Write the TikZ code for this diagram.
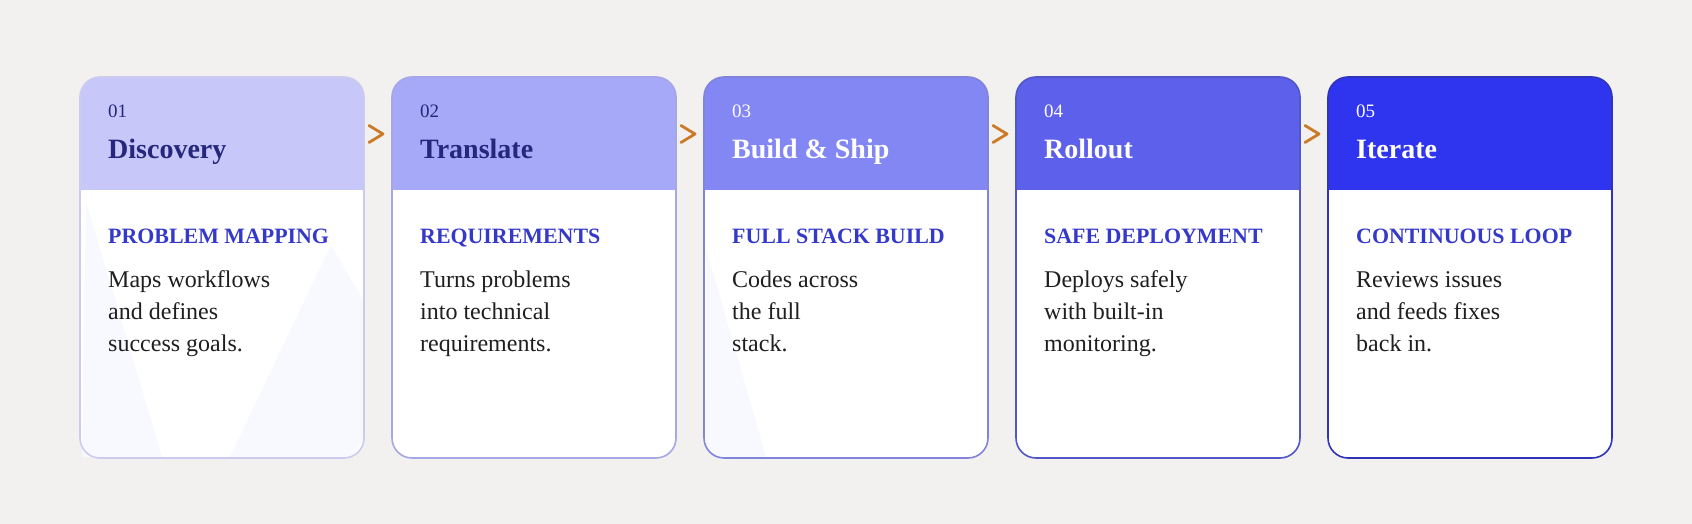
\documentclass[tikz,border=0pt]{standalone}
\usepackage{fontspec}
\setmainfont{Liberation Serif}
\usetikzlibrary{positioning}
\definecolor{bg}{HTML}{F2F1EF}
\definecolor{hd1}{HTML}{C7C8F9}
\definecolor{hd2}{HTML}{A6A8F8}
\definecolor{hd3}{HTML}{8387F3}
\definecolor{hd4}{HTML}{5D60EA}
\definecolor{hd5}{HTML}{2F35EE}
\definecolor{bd1}{HTML}{CACBEE}
\definecolor{bd2}{HTML}{A5A7E6}
\definecolor{bd3}{HTML}{8184D8}
\definecolor{bd4}{HTML}{5256C6}
\definecolor{bd5}{HTML}{3034B8}
\definecolor{navy}{HTML}{24277C}
\definecolor{tagblue}{HTML}{3539C9}
\definecolor{bodytext}{HTML}{1F1F1F}
\definecolor{chevorange}{HTML}{CC7A28}
\definecolor{ghostfill}{HTML}{F8F9FE}
\tikzset{
    card/.style={rectangle, rounded corners=20pt, minimum width=284pt, minimum height=381pt, inner sep=0pt, outer sep=0pt, fill=white}, % card body
    num/.style={anchor=base west, inner sep=0pt, font=\fontsize{19}{22}\selectfont},
    title/.style={anchor=base west, inner sep=0pt, font=\fontsize{28}{32}\selectfont\bfseries},
    tag/.style={anchor=base west, inner sep=0pt, text=tagblue, font=\fontsize{21.9}{26}\selectfont\bfseries},
    body/.style={anchor=base west, inner sep=0pt, align=left, text=bodytext, font=\fontsize{24}{32}\selectfont}, % base = last line
    frame/.style={line width=1.6pt, rounded corners=20pt}, % card outline
    chev/.style={draw=chevorange, line width=2.8pt, line cap=round, line join=round}
}

\begin{document}
\begin{tikzpicture}[x=1pt, y=-1pt]

    \fill[bg] (0,0) rectangle (1692,524);
    \useasboundingbox (0,0) rectangle (1692,524);

    % cards
    \node[card] (c1) at (222,267.5) {};
    \node[card] (c2) at (534,267.5) {};
    \node[card] (c3) at (846,267.5) {};
    \node[card] (c4) at (1158,267.5) {};
    \node[card] (c5) at (1470,267.5) {};

    % faint shapes in the card bodies
    \fill[ghostfill] (86,202) -- (162,457) -- (82,457) -- cycle;
    \fill[ghostfill] (331,245) -- (230,457) -- (352,457) -- (363,440) -- (363,300) -- cycle;
    \fill[ghostfill] (707,252) -- (766,457) -- (716,457) -- (706,446) -- cycle;

    % headers
    \begin{scope}
        \clip[rounded corners=20pt] (c1.south west) rectangle (c1.north east);
        \fill[hd1] (c1.north west) rectangle ([yshift=-113pt]c1.north east);
    \end{scope}
    \begin{scope}
        \clip[rounded corners=20pt] (c2.south west) rectangle (c2.north east);
        \fill[hd2] (c2.north west) rectangle ([yshift=-113pt]c2.north east);
    \end{scope}
    \begin{scope}
        \clip[rounded corners=20pt] (c3.south west) rectangle (c3.north east);
        \fill[hd3] (c3.north west) rectangle ([yshift=-113pt]c3.north east);
    \end{scope}
    \begin{scope}
        \clip[rounded corners=20pt] (c4.south west) rectangle (c4.north east);
        \fill[hd4] (c4.north west) rectangle ([yshift=-113pt]c4.north east);
    \end{scope}
    \begin{scope}
        \clip[rounded corners=20pt] (c5.south west) rectangle (c5.north east);
        \fill[hd5] (c5.north west) rectangle ([yshift=-113pt]c5.north east);
    \end{scope}

    \draw[frame, bd1] (c1.south west) rectangle (c1.north east);
    \draw[frame, bd2] (c2.south west) rectangle (c2.north east);
    \draw[frame, bd3] (c3.south west) rectangle (c3.north east);
    \draw[frame, bd4] (c4.south west) rectangle (c4.north east);
    \draw[frame, bd5] (c5.south west) rectangle (c5.north east);

    % card 1
    \node[num, navy] (n1) at ([shift={(28,41)}]c1.north west) {01};
    \node[title, navy] (t1) at ([shift={(28,81)}]c1.north west) {Discovery};
    \node[tag] (g1) at ([shift={(28,166)}]c1.north west) {PROBLEM MAPPING};
    \node[body] (b1) at ([shift={(28,274)}]c1.north west) {Maps workflows\\and defines\\success goals.};

    % card 2
    \node[num, navy] (n2) at ([shift={(28,41)}]c2.north west) {02};
    \node[title, navy] (t2) at ([shift={(28,81)}]c2.north west) {Translate};
    \node[tag] (g2) at ([shift={(28,166)}]c2.north west) {REQUIREMENTS};
    \node[body] (b2) at ([shift={(28,274)}]c2.north west) {Turns problems\\into technical\\requirements.};

    % card 3
    \node[num, white] (n3) at ([shift={(28,41)}]c3.north west) {03};
    \node[title, white] (t3) at ([shift={(28,81)}]c3.north west) {Build \& Ship};
    \node[tag] (g3) at ([shift={(28,166)}]c3.north west) {FULL STACK BUILD};
    \node[body] (b3) at ([shift={(28,274)}]c3.north west) {Codes across\\the full\\stack.};

    % card 4
    \node[num, white] (n4) at ([shift={(28,41)}]c4.north west) {04};
    \node[title, white] (t4) at ([shift={(28,81)}]c4.north west) {Rollout};
    \node[tag] (g4) at ([shift={(28,166)}]c4.north west) {SAFE DEPLOYMENT};
    \node[body] (b4) at ([shift={(28,274)}]c4.north west) {Deploys safely\\with built-in\\monitoring.};

    % card 5
    \node[num, white] (n5) at ([shift={(28,41)}]c5.north west) {05};
    \node[title, white] (t5) at ([shift={(28,81)}]c5.north west) {Iterate};
    \node[tag] (g5) at ([shift={(28,166)}]c5.north west) {CONTINUOUS LOOP};
    \node[body] (b5) at ([shift={(28,274)}]c5.north west) {Reviews issues\\and feeds fixes\\back in.};

    % chevrons between cards
    \coordinate (k1) at ([shift={(14,57)}]c1.north east);
    \coordinate (k2) at ([shift={(14,57)}]c2.north east);
    \coordinate (k3) at ([shift={(14,57)}]c3.north east);
    \coordinate (k4) at ([shift={(14,57)}]c4.north east);
    \draw[chev] ([shift={(-9,-8.5)}]k1) -- ([shift={(5,0)}]k1) -- ([shift={(-9,8.5)}]k1);
    \draw[chev] ([shift={(-9,-8.5)}]k2) -- ([shift={(5,0)}]k2) -- ([shift={(-9,8.5)}]k2);
    \draw[chev] ([shift={(-9,-8.5)}]k3) -- ([shift={(5,0)}]k3) -- ([shift={(-9,8.5)}]k3);
    \draw[chev] ([shift={(-9,-8.5)}]k4) -- ([shift={(5,0)}]k4) -- ([shift={(-9,8.5)}]k4);

\end{tikzpicture}
\end{document}
